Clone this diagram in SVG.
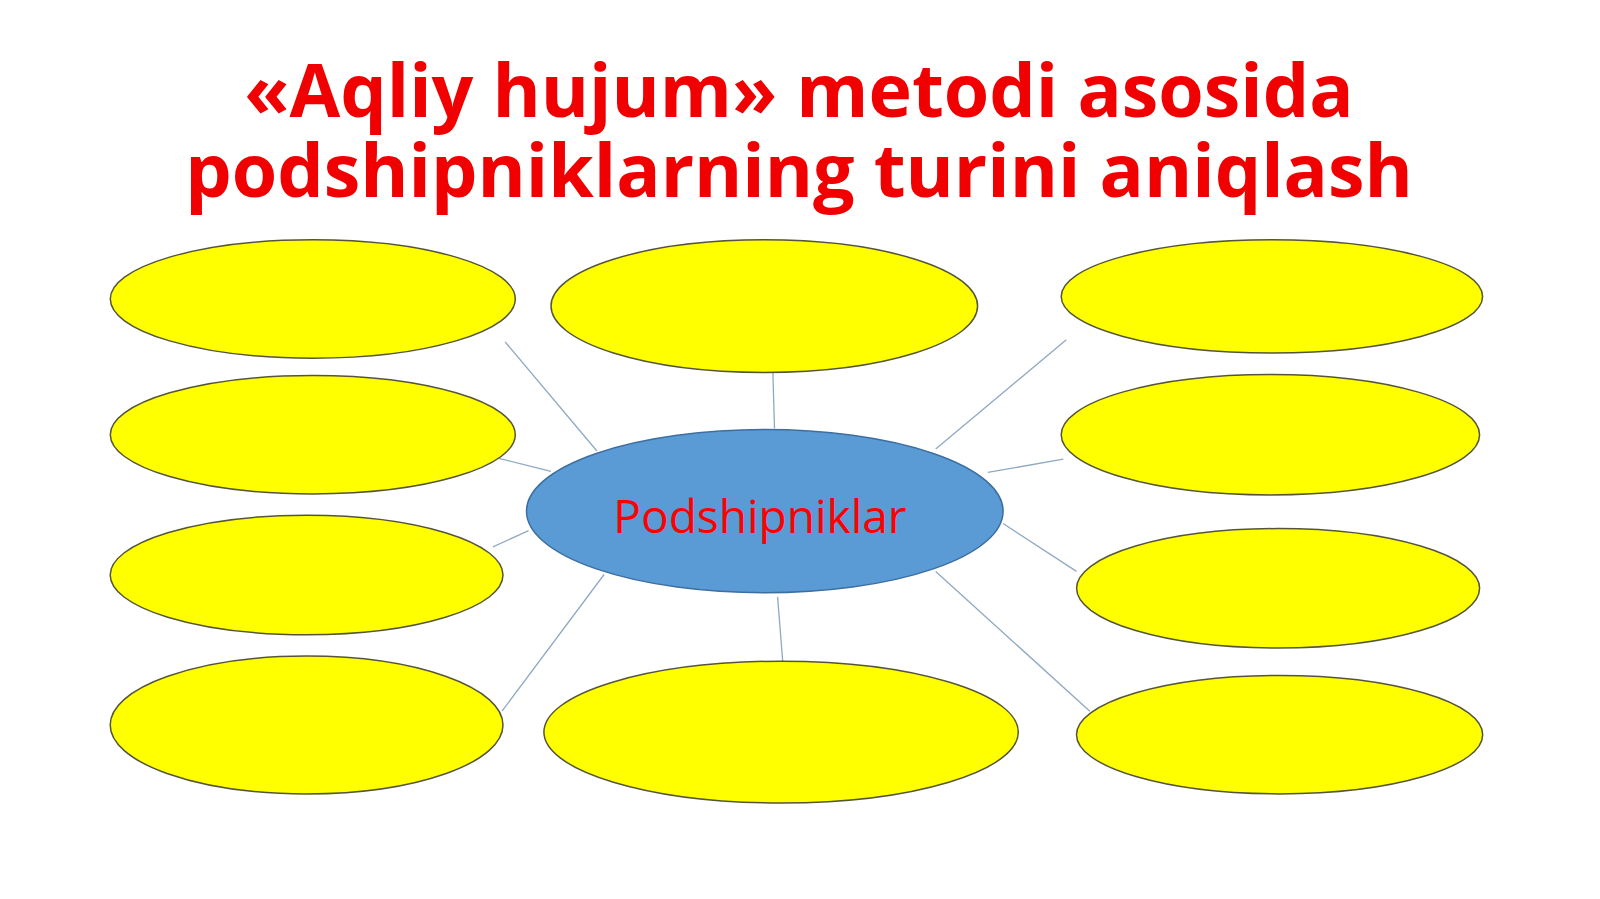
<svg xmlns="http://www.w3.org/2000/svg" width="1600" height="899" viewBox="0 0 1600 899">
<style>
.title{font-family:"Open Sans","Noto Sans",sans-serif;font-weight:bold;font-size:73.5px;fill:#f00000;text-anchor:middle}
.leaf{fill:#ffff00;stroke:#55553a;stroke-width:1.5}
.hub{fill:#5b9bd5;stroke:#3d6ea0;stroke-width:1.5}
.hubtext{font-family:"Open Sans","Noto Sans",sans-serif;font-size:46px;fill:#ff0000;text-anchor:middle}
.conn line{stroke:#8fa9c2;stroke-width:1.3}
</style>
<rect width="1600" height="899" fill="#ffffff"/>
<g id="title">
<text class="title" x="799" y="117"><tspan x="799" y="117">«Aqliy hujum» metodi asosida</tspan><tspan x="799" y="197">podshipniklarning turini aniqlash</tspan></text>
</g>
<g id="connectors" class="conn">
<line x1="505.1" y1="341.8" x2="596.9" y2="451"/>
<line x1="772.5" y1="359.2" x2="774.5" y2="428.6"/>
<line x1="1066.3" y1="339.8" x2="935.7" y2="449"/>
<line x1="489.8" y1="456.1" x2="551" y2="471.4"/>
<line x1="492.9" y1="546.9" x2="528.6" y2="530.6"/>
<line x1="987.8" y1="472.4" x2="1063.3" y2="459.2"/>
<line x1="1003.1" y1="523.5" x2="1076.5" y2="571.4"/>
<line x1="604.1" y1="574.5" x2="502" y2="711.2"/>
<line x1="777.6" y1="596.9" x2="782.7" y2="661.2"/>
<line x1="935.7" y1="571.4" x2="1089.8" y2="711.2"/>
</g>
<g id="node-l1"><ellipse class="leaf" cx="312.8" cy="299" rx="202.5" ry="59.2"/></g>
<g id="node-l2"><ellipse class="leaf" cx="312.8" cy="434.7" rx="202.5" ry="59.2"/></g>
<g id="node-l3"><ellipse class="leaf" cx="306.6" cy="575" rx="196.4" ry="59.7"/></g>
<g id="node-l4"><ellipse class="leaf" cx="306.6" cy="725" rx="196.4" ry="68.9"/></g>
<g id="node-top"><ellipse class="leaf" cx="764.3" cy="306.1" rx="213.3" ry="66.3"/></g>
<g id="node-bottom"><ellipse class="leaf" cx="781.1" cy="732.1" rx="237.2" ry="70.9"/></g>
<g id="node-r1"><ellipse class="leaf" cx="1271.9" cy="296.4" rx="210.7" ry="56.6"/></g>
<g id="node-r2"><ellipse class="leaf" cx="1270.4" cy="434.7" rx="209.2" ry="60.2"/></g>
<g id="node-r3"><ellipse class="leaf" cx="1278.1" cy="588.3" rx="201.5" ry="59.7"/></g>
<g id="node-r4"><ellipse class="leaf" cx="1279.6" cy="734.7" rx="203.1" ry="59.2"/></g>
<g id="node-center">
<ellipse class="hub" cx="764.8" cy="511.2" rx="238.3" ry="81.6"/>
<text class="hubtext" x="760" y="533">Podshipniklar</text>
</g>
</svg>
